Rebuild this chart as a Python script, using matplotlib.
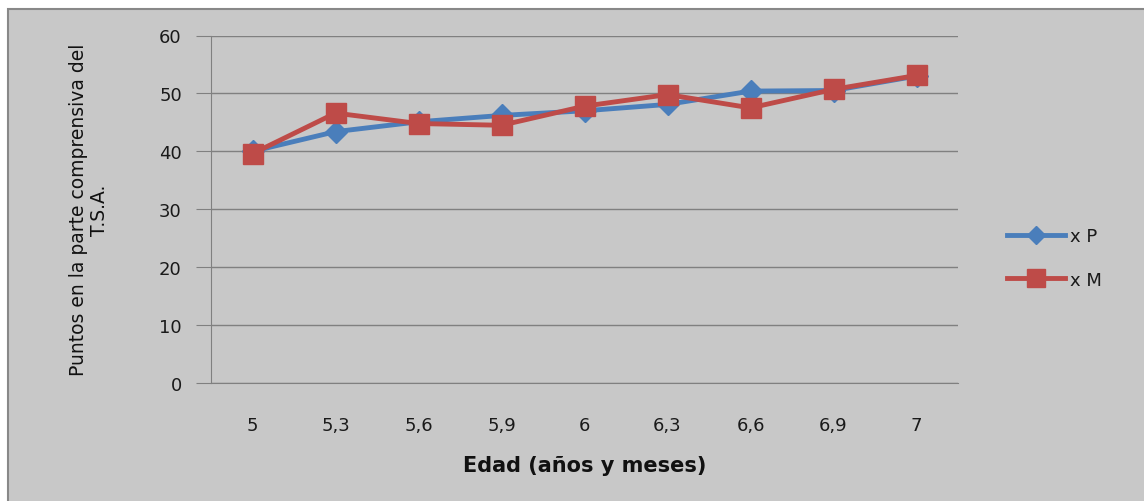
import matplotlib
matplotlib.use('Agg')
from matplotlib import pyplot as plt
from matplotlib.patches import Rectangle

# edades (x categorias) y puntos medios
edades = ['5', '5,3', '5,6', '5,9', '6', '6,3', '6,6', '6,9', '7']
puntos_p = [40.0, 43.4, 45.1, 46.2, 47.0, 48.1, 50.4, 50.5, 53.0]
puntos_m = [39.6, 46.6, 44.8, 44.5, 47.8, 49.8, 47.5, 50.7, 53.1]
y_ticks = [0, 10, 20, 30, 40, 50, 60]

bg = '#c8c8c8'
blue = '#4a7ebb'
red = '#be4b48'

fig = plt.figure(figsize=(11.44, 5.02), dpi=100, facecolor='white')
# chart frame (cropped at right/bottom)
fig.patches.append(Rectangle((8 / 1144, -0.05), 1.2, 1 - 10 / 502 + 0.05,
                             transform=fig.transFigure, facecolor=bg,
                             edgecolor='#888888', linewidth=1.5, zorder=-5))

ax = fig.add_axes([211 / 1144, 1 - 384 / 502, (958 - 211) / 1144, (384 - 36.5) / 502])
ax.set_facecolor(bg)
ax.set_zorder(2)

x = list(range(len(edades)))
ax.plot(x, puntos_p, color=blue, lw=3.5, marker='D', ms=11, mec=blue, label='x P', zorder=3)
ax.plot(x, puntos_m, color=red, lw=3.5, marker='s', ms=15, mec=red, label='x M', zorder=4)

ax.set_xlim(-0.5, len(edades) - 0.5)
ax.set_ylim(0, 60)
ax.set_yticks(y_ticks)
ax.set_xticks(x)
ax.set_xticklabels(edades)
ax.grid(axis='y', color='#808080', lw=1)
ax.set_axisbelow(True)

for s in ['top', 'right']:
    ax.spines[s].set_visible(False)
for s in ['left', 'bottom']:
    ax.spines[s].set_color('#808080')
ax.tick_params(axis='y', length=11, color='#808080', labelsize=13, pad=10, labelcolor='#1a1a1a')
ax.tick_params(axis='x', length=0, labelsize=13, pad=24, labelcolor='#1a1a1a')

fig.text(585 / 1144, 1 - 466 / 502, 'Edad (años y meses)', ha='center', va='center',
         fontsize=15, fontweight='bold', color='#111111')
fig.text(89 / 1144, 1 - 210 / 502, 'Puntos en la parte comprensiva del\nT.S.A.', ha='center',
         va='center', rotation=90, fontsize=13.5, color='#111111', linespacing=1.15)

leg = fig.legend(loc='center left', bbox_to_anchor=(1000 / 1144, 1 - 259 / 502),
                 frameon=False, fontsize=13, handlelength=3.2, handletextpad=0.3,
                 labelspacing=1.4, borderaxespad=0, markerscale=0.85)
for t in leg.get_texts():
    t.set_color('#1a1a1a')

fig.savefig('out.png', dpi=100, facecolor='white')
